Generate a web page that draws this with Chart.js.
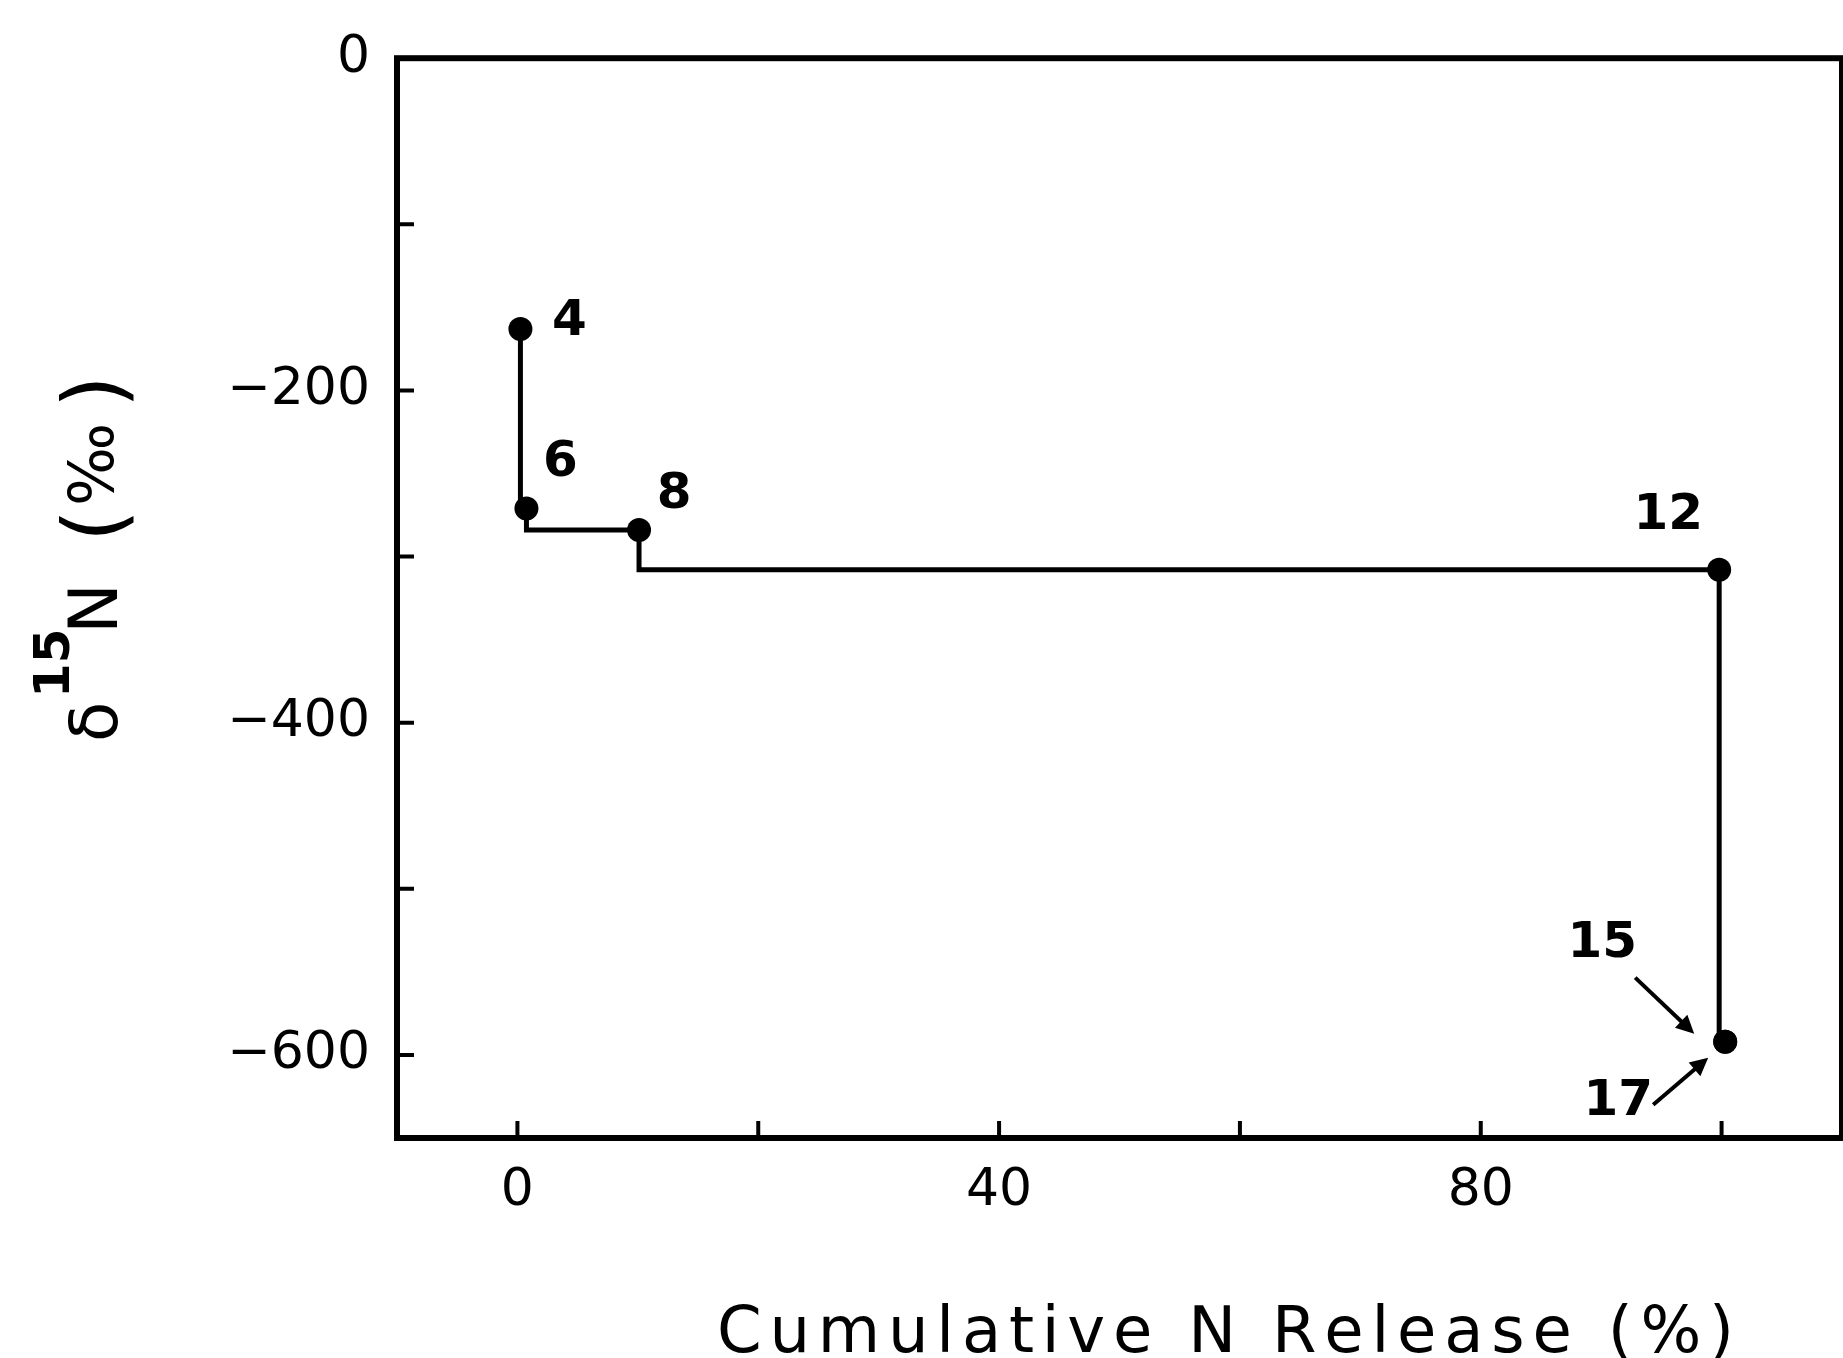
<!DOCTYPE html>
<html>
<head>
<meta charset="utf-8">
<script src="https://cdn.jsdelivr.net/npm/chart.js"></script>
<style>
  html, body { margin: 0; padding: 0; background: #fff; }
  canvas { display: block; }
</style>
</head>
<body>
<canvas id="myChart" width="1843" height="1358"></canvas>
<script>
// heating steps, cumulative N released (%) and d15N (permil)
const steps = ["4", "6", "8", "12", "15", "17"];
const release = [0.25, 0.75, 10.1, 99.8, 100.3, 100.3];
const delta15N = [-163, -271, -284, -308, -592, -592];

const xTicks = [0, 20, 40, 60, 80, 100];
const xTickLabels = ["0", "", "40", "", "80", ""];
const yTicks = [0, -100, -200, -300, -400, -500, -600];
const yTickLabels = ["0", "", "\u2212200", "", "\u2212400", "", "\u2212600"];

const FONT = '"DejaVu Sans", sans-serif';

// where each step number sits relative to its dot
const labelSpots = {
  "4": { dx: 49, dy: -7 },
  "6": { dx: 34, dy: -45 },
  "8": { dx: 35, dy: -35 },
  "12": { dx: -51, dy: -54 },
  "15": { dx: -123, dy: -98, arrow: [-90, -64, -31, -8] },
  "17": { dx: -107, dy: 60, arrow: [-72, 63, -17, 16] },
};

function arrow(ctx, x1, y1, x2, y2) {
  const a = Math.atan2(y2 - y1, x2 - x1);
  const len = 18, w = 9;
  ctx.beginPath();
  ctx.moveTo(x1, y1);
  ctx.lineTo(x2 - Math.cos(a) * len * 0.6, y2 - Math.sin(a) * len * 0.6);
  ctx.stroke();
  ctx.beginPath();
  ctx.moveTo(x2, y2);
  ctx.lineTo(x2 - Math.cos(a) * len - Math.sin(a) * w, y2 - Math.sin(a) * len + Math.cos(a) * w);
  ctx.lineTo(x2 - Math.cos(a) * len + Math.sin(a) * w, y2 - Math.sin(a) * len - Math.cos(a) * w);
  ctx.closePath();
  ctx.fill();
}

const framePlugin = {
  id: "frame",
  beforeDatasetsDraw(chart) {
    const { ctx, chartArea: a, scales } = chart;
    ctx.save();
    ctx.strokeStyle = "#000";
    ctx.lineWidth = 6;
    ctx.strokeRect(a.left, a.top, a.right - a.left, a.bottom - a.top);
    ctx.lineWidth = 4;
    ctx.beginPath();
    xTicks.forEach((v) => {
      const px = scales.x.getPixelForValue(v);
      ctx.moveTo(px, a.bottom);
      ctx.lineTo(px, a.bottom - 17);
    });
    yTicks.forEach((v) => {
      const py = scales.y.getPixelForValue(v);
      ctx.moveTo(a.left, py);
      ctx.lineTo(a.left + 17, py);
    });
    ctx.stroke();
    ctx.restore();
  },
  afterDraw(chart) {
    const { ctx, scales } = chart;
    ctx.save();
    ctx.fillStyle = "#000";
    ctx.strokeStyle = "#000";
    ctx.lineWidth = 4;

    // step numbers
    ctx.font = "bold 50px " + FONT;
    ctx.textAlign = "center";
    ctx.textBaseline = "middle";
    steps.forEach((s, i) => {
      const spot = labelSpots[s];
      const px = scales.x.getPixelForValue(release[i]);
      const py = scales.y.getPixelForValue(delta15N[i]);
      ctx.fillText(s, px + spot.dx, py + spot.dy);
      if (spot.arrow) {
        const [ax1, ay1, ax2, ay2] = spot.arrow;
        arrow(ctx, px + ax1, py + ay1, px + ax2, py + ay2);
      }
    });

    // x axis title, letter spaced
    const xTitle = "Cumulative N Release (%)";
    ctx.font = "64px " + FONT;
    ctx.textAlign = "left";
    ctx.textBaseline = "alphabetic";
    const chars = xTitle.split("");
    const widths = chars.map((c) => ctx.measureText(c).width);
    const total = widths.reduce((p, c) => p + c, 0);
    const gap = (1017 - total) / (chars.length - 1);
    let cx = 717;
    chars.forEach((c, i) => {
      ctx.fillText(c, cx, 1352);
      cx += widths[i] + gap;
    });

    // y axis title
    ctx.translate(117, 742);
    ctx.rotate(-Math.PI / 2);
    ctx.font = "66px " + FONT;
    ctx.fillText("\u03b4", 0, 0);
    ctx.font = "bold 50px " + FONT;
    ctx.fillText("15", 44, -48);
    ctx.font = "68px " + FONT;
    ctx.fillText("N", 108, 0);
    ctx.font = "84px " + FONT;
    ctx.fillText("(", 200, 6);
    ctx.font = "62px " + FONT;
    ctx.fillText("\u2030", 236, -4);
    ctx.font = "84px " + FONT;
    ctx.fillText(")", 334, 6);
    ctx.restore();
  },
};

const points = release.map((x, i) => ({ x: x, y: delta15N[i] }));

const ctx = document.getElementById("myChart").getContext("2d");
const myChart = new Chart(ctx, {
  type: "scatter",
  data: {
    datasets: [
      {
        label: "d15N",
        data: points,
        showLine: true,
        stepped: "after",
        borderColor: "#000",
        borderWidth: 5,
        pointRadius: 12,
        pointBackgroundColor: "#000",
        pointBorderWidth: 0,
      },
    ],
  },
  options: {
    responsive: false,
    animation: false,
    devicePixelRatio: 1,
    layout: { autoPadding: false, padding: { left: 0, top: 55, right: 1, bottom: 0 } },
    plugins: { legend: { display: false }, tooltip: { enabled: false } },
    scales: {
      x: {
        type: "linear",
        min: -10,
        max: 110,
        afterFit(scale) {
          scale.height = 220;
          scale.paddingLeft = 0;
          scale.paddingRight = 0;
        },
        afterBuildTicks(scale) { scale.ticks = xTicks.map((v) => ({ value: v })); },
        grid: { display: false, drawTicks: false },
        border: { display: false },
        ticks: {
          padding: 22,
          color: "#000",
          font: { family: FONT, size: 52 },
          callback: (v) => xTickLabels[xTicks.indexOf(v)] || "",
        },
      },
      y: {
        type: "linear",
        min: -650,
        max: 0,
        afterFit(scale) { scale.width = 397; },
        afterBuildTicks(scale) { scale.ticks = yTicks.map((v) => ({ value: v })); },
        grid: { display: false, drawTicks: false },
        border: { display: false },
        ticks: {
          padding: 27,
          color: "#000",
          font: { family: FONT, size: 52 },
          callback: (v) => yTickLabels[yTicks.indexOf(v)] || "",
        },
      },
    },
  },
  plugins: [framePlugin],
});
</script>
</body>
</html>
